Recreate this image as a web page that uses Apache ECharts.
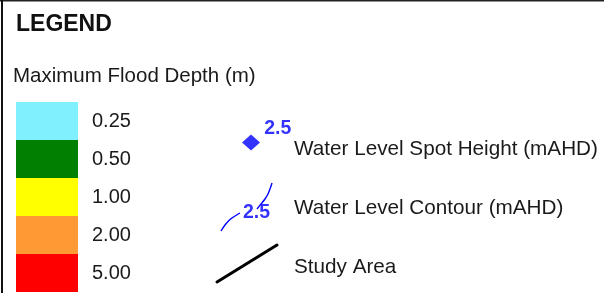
<!DOCTYPE html>
<html>
<head>
<meta charset="utf-8">
<script src="https://cdn.jsdelivr.net/npm/echarts@6/dist/echarts.min.js"></script>
<style>html,body{margin:0;padding:0;background:#fff;}#c{width:604px;height:293px;}</style>
</head>
<body>
<div id="c"></div>
<script>
// ---- data ----
var depthLabels = ['0.25', '0.50', '1.00', '2.00', '5.00'];
var depthColors = ['#80F0FF', '#007F00', '#FFFF00', '#FF9933', '#FF0000'];
var swatchValues = [1, 1, 1, 1, 1];
var itemLabels = ['Water Level Spot Height (mAHD)', 'Water Level Contour (mAHD)', 'Study Area'];
var spotPoint = [[51, 42.5]];
var spotLabelPoint = [[77.7, 28.3]];
var contourLabelPoint = [[56.5, 112.5]];
var contourLine = [[21, 131], [25, 125], [30, 119.5], [35, 116], [40, 113], null,
                   [57, 109], [61, 104], [65, 99], [68, 94], [70, 89], [72, 83]];
var studyLine = [[17, 182], [77, 145]];
var valueLabel = '2.5';

var FONT = 'Liberation Sans, Arial, sans-serif';
var BLUE = '#0000FF';
var chart = echarts.init(document.getElementById('c'), null, {renderer: 'canvas'});
var hidden = {show: false};
var option = {
  animation: false,
  backgroundColor: '#ffffff',
  title: [
    {text: 'LEGEND', left: 16, top: 13, padding: 0,
     textStyle: {fontSize: 23, fontWeight: 'bold', fontFamily: FONT, color: '#111'}},
    {text: 'Maximum Flood Depth (m)', left: 13, top: 65.5, padding: 0,
     textStyle: {fontSize: 20.5, fontWeight: 'normal', fontFamily: FONT, color: '#1a1a1a'}}
  ],
  graphic: [
    {type: 'line', shape: {x1: 0, y1: 0.7, x2: 604, y2: 0.7}, style: {stroke: '#222', lineWidth: 1.4}},
    {type: 'line', shape: {x1: 2, y1: 0, x2: 2, y2: 293}, style: {stroke: '#111', lineWidth: 2}}
  ],
  grid: [
    {left: 16, top: 102, width: 62, height: 190},
    {left: 210, top: 149, width: 69, height: 118},
    {left: 200, top: 100, width: 100, height: 193}
  ],
  xAxis: [
    {gridIndex: 0, type: 'value', min: 0, max: 1, show: false},
    {gridIndex: 1, type: 'value', min: 0, max: 1, show: false},
    {gridIndex: 2, type: 'value', min: 0, max: 100, show: false}
  ],
  yAxis: [
    {gridIndex: 0, type: 'category', data: depthLabels, inverse: true, position: 'right',
     axisLine: hidden, axisTick: hidden, splitLine: hidden,
     axisLabel: {margin: 14, align: 'left', fontSize: 20, fontFamily: FONT, color: '#1a1a1a',
                 padding: [5, 0, 0, 0]}},
    {gridIndex: 1, type: 'category', data: itemLabels, inverse: true, position: 'right', boundaryGap: false,
     axisLine: hidden, axisTick: hidden, splitLine: hidden,
     axisLabel: {margin: 15, align: 'left', fontSize: 20.7, fontFamily: FONT, color: '#1a1a1a'}},
    {gridIndex: 2, type: 'value', min: 0, max: 193, inverse: true, show: false}
  ],
  series: [
    {type: 'bar', xAxisIndex: 0, yAxisIndex: 0, barWidth: '100%', barCategoryGap: '0%',
     data: swatchValues.map(function (v, i) { return {value: v, itemStyle: {color: depthColors[i]}}; })},
    {type: 'scatter', xAxisIndex: 2, yAxisIndex: 2, symbol: 'diamond', symbolSize: [18, 16],
     itemStyle: {color: BLUE}, data: spotPoint},
    {type: 'scatter', xAxisIndex: 2, yAxisIndex: 2, symbolSize: 0, data: spotLabelPoint,
     label: {show: true, position: 'inside', formatter: valueLabel, fontSize: 19.5, fontWeight: 'bold',
             fontFamily: FONT, color: BLUE}},
    {type: 'line', xAxisIndex: 2, yAxisIndex: 2, data: contourLine, smooth: 0.3, symbol: 'none',
     connectNulls: false, clip: false, lineStyle: {color: BLUE, width: 1.4}},
    {type: 'scatter', xAxisIndex: 2, yAxisIndex: 2, symbolSize: 0, data: contourLabelPoint,
     label: {show: true, position: 'inside', formatter: valueLabel, fontSize: 19.5, fontWeight: 'bold',
             fontFamily: FONT, color: BLUE}},
    {type: 'line', xAxisIndex: 2, yAxisIndex: 2, data: studyLine, symbol: 'none', clip: false,
     lineStyle: {color: '#000', width: 3, cap: 'round'}}
  ]
};
chart.setOption(option);
</script>
</body>
</html>
